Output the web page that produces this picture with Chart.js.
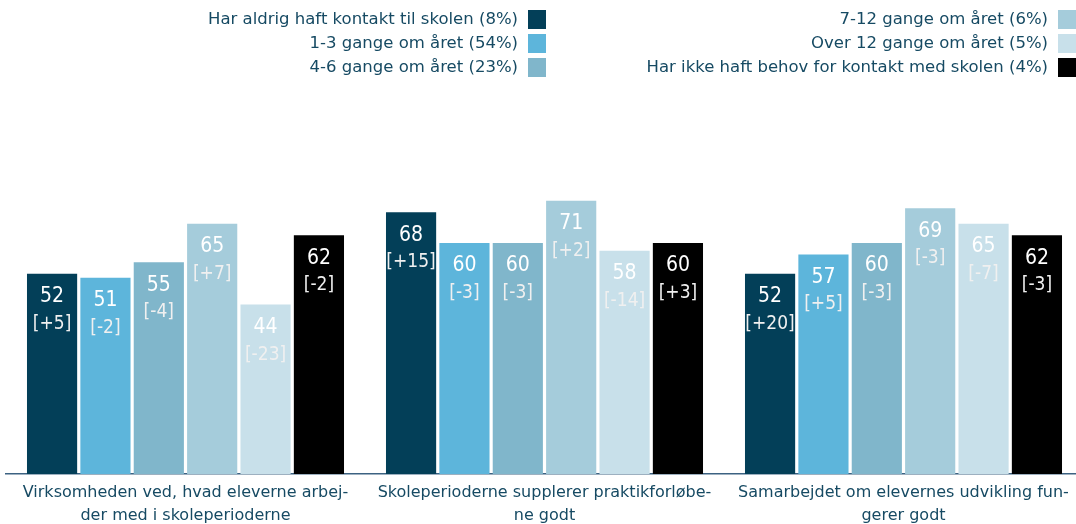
<!DOCTYPE html>
<html>
<head>
<meta charset="utf-8">
<script src="https://cdn.jsdelivr.net/npm/chart.js@4.4.1/dist/chart.umd.min.js"></script>
<style>
html,body{margin:0;padding:0;background:#fff;overflow:hidden;}
#wrap{position:relative;width:1084px;height:524px;}
</style>
</head>
<body>
<div id="wrap"><canvas id="c"></canvas></div>
<script>
const categories = [
  ["Virksomheden ved, hvad eleverne arbej-", "der med i skoleperioderne"],
  ["Skoleperioderne supplerer praktikforløbe-", "ne godt"],
  ["Samarbejdet om elevernes udvikling fun-", "gerer godt"]
];
const seriesNames = [
  "Har aldrig haft kontakt til skolen (8%)",
  "1-3 gange om året (54%)",
  "4-6 gange om året (23%)",
  "7-12 gange om året (6%)",
  "Over 12 gange om året (5%)",
  "Har ikke haft behov for kontakt med skolen (4%)"
];
const valuesNever   = [52, 68, 52];
const values1to3    = [51, 60, 57];
const values4to6    = [55, 60, 60];
const values7to12   = [65, 71, 69];
const valuesOver12  = [44, 58, 65];
const valuesNoNeed  = [62, 60, 62];
const changeNever   = ["+5", "+15", "+20"];
const change1to3    = ["-2", "-3", "+5"];
const change4to6    = ["-4", "-3", "-3"];
const change7to12   = ["+7", "+2", "-3"];
const changeOver12  = ["-23", "-14", "-7"];
const changeNoNeed  = ["-2", "+3", "-3"];
const colors = ["#033f58", "#5db5db", "#80b6cb", "#a5ccdb", "#c8e0ea", "#000000"];

const allValues = [valuesNever, values1to3, values4to6, values7to12, valuesOver12, valuesNoNeed];
const allChanges = [changeNever, change1to3, change4to6, change7to12, changeOver12, changeNoNeed];

const FONT = "'DejaVu Sans', sans-serif";
const FONT_COND = "'DejaVu Sans Condensed', 'DejaVu Sans', sans-serif";
const TEXT_COLOR = "#164a63";

const labelPlugin = {
  id: 'barLabels',
  afterDatasetsDraw(chart) {
    const ctx = chart.ctx;
    ctx.save();
    ctx.textAlign = 'center';
    ctx.textBaseline = 'middle';
    chart.data.datasets.forEach((ds, di) => {
      const meta = chart.getDatasetMeta(di);
      meta.data.forEach((el, i) => {
        ctx.fillStyle = '#ffffff';
        ctx.font = "21px " + FONT_COND;
        ctx.fillText(String(ds.data[i]), el.x, el.y + 23);
        ctx.fillStyle = '#f0f0f0';
        ctx.font = "19px " + FONT_COND;
        ctx.fillText('[' + ds.changes[i] + ']', el.x, el.y + 50);
      });
    });
    ctx.restore();
  }
};

const legendPlugin = {
  id: 'customLegend',
  afterDraw(chart) {
    const ctx = chart.ctx;
    ctx.save();
    ctx.font = "16.5px " + FONT;
    ctx.textAlign = 'right';
    ctx.textBaseline = 'middle';
    const colRight = [546, 1076];
    const rowY = [19.5, 43.5, 67.5];
    chart.data.datasets.forEach((ds, di) => {
      const col = Math.floor(di / 3);
      const row = di % 3;
      const bx = colRight[col] - 18;
      const cy = rowY[row];
      ctx.fillStyle = ds.backgroundColor;
      ctx.fillRect(bx, cy - 9.5, 18, 19);
      ctx.fillStyle = TEXT_COLOR;
      ctx.fillText(ds.label, bx - 10, cy);
    });
    ctx.restore();
  }
};

new Chart(document.getElementById('c'), {
  type: 'bar',
  data: {
    labels: categories,
    datasets: allValues.map((v, i) => ({
      label: seriesNames[i],
      data: v,
      changes: allChanges[i],
      backgroundColor: colors[i],
      borderWidth: 0,
      categoryPercentage: 0.892,
      barPercentage: 0.94
    }))
  },
  options: {
    responsive: true,
    maintainAspectRatio: false,
    devicePixelRatio: 1,
    animation: false,
    layout: { padding: { top: 89, left: 6, right: 1, bottom: 0 } },
    plugins: { legend: { display: false }, tooltip: { enabled: false } },
    scales: {
      x: {
        grid: { display: false, drawTicks: false },
        border: { display: true, color: '#3c6282', width: 1.5 },
        ticks: {
          padding: 7.5,
          color: TEXT_COLOR,
          font: { family: FONT, size: 16, lineHeight: 1.4375 },
          maxRotation: 0,
          autoSkip: false
        },
        afterFit(scale) { scale.height = 50; }
      },
      y: {
        display: false,
        min: 0,
        max: 100
      }
    }
  },
  plugins: [labelPlugin, legendPlugin]
});
</script>
</body>
</html>
